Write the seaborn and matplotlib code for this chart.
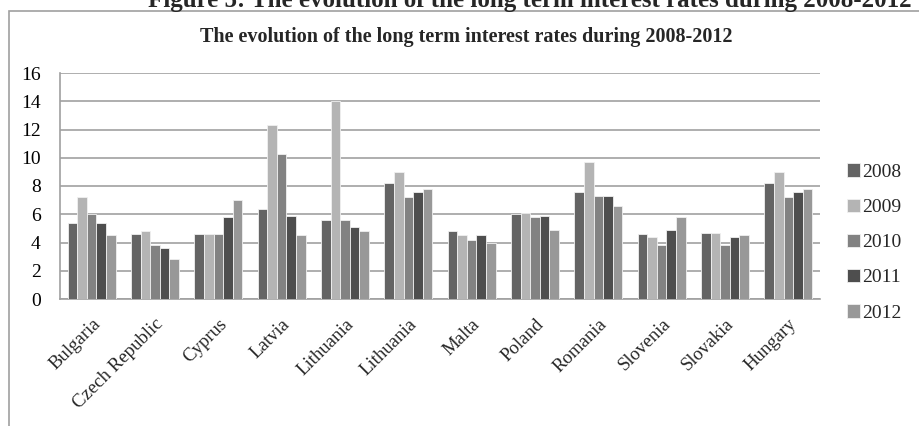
import matplotlib
matplotlib.use("Agg")
import matplotlib.pyplot as plt
import seaborn as sns
import pandas as pd
from matplotlib.patches import Rectangle

countries = ["Bulgaria", "Czech Republic", "Cyprus", "Latvia", "Lithuania",
             "Lithuania", "Malta", "Poland", "Romania", "Slovenia",
             "Slovakia", "Hungary"]
years = ["2008", "2009", "2010", "2011", "2012"]

rate_2008 = [5.4, 4.6, 4.6, 6.4, 5.6, 8.2, 4.8, 6.0, 7.6, 4.6, 4.7, 8.2]
rate_2009 = [7.2, 4.8, 4.6, 12.3, 14.0, 9.0, 4.5, 6.1, 9.7, 4.4, 4.7, 9.0]
rate_2010 = [6.0, 3.8, 4.6, 10.3, 5.6, 7.2, 4.2, 5.8, 7.3, 3.8, 3.8, 7.2]
rate_2011 = [5.4, 3.6, 5.8, 5.9, 5.1, 7.6, 4.5, 5.9, 7.3, 4.9, 4.4, 7.6]
rate_2012 = [4.5, 2.8, 7.0, 4.5, 4.8, 7.8, 4.0, 4.9, 6.6, 5.8, 4.5, 7.8]

palette = ["#646464", "#b4b4b4", "#828282", "#4e4e4e", "#989898"]

series = [rate_2008, rate_2009, rate_2010, rate_2011, rate_2012]
rows = []
for year, vals in zip(years, series):
    for slot, v in enumerate(vals):
        rows.append({"slot": slot, "year": year, "rate": v})
df = pd.DataFrame(rows)

sns.set_theme(style="white")
plt.rcParams["font.family"] = ["Liberation Serif", "DejaVu Serif"]

fig = plt.figure(figsize=(9.19, 4.26), dpi=100)
ax = fig.add_axes([60 / 919, 1 - 299 / 426, 760 / 919, 226 / 426])

sns.barplot(data=df, x="slot", y="rate", hue="year", palette=palette,
            width=0.76, edgecolor="#f0f0f0", linewidth=0.6,
            errorbar=None, ax=ax, zorder=3)

ax.set_ylim(0, 16)
ax.set_yticks(range(0, 17, 2))
ax.set_xlim(-0.5, len(countries) - 0.5)
ax.yaxis.grid(True, color="#a8a8a8", linewidth=1.3, zorder=0)
ax.set_axisbelow(True)
ax.set_xlabel("")
ax.set_ylabel("")
for side in ["top", "right"]:
    ax.spines[side].set_visible(False)
for side in ["left", "bottom"]:
    ax.spines[side].set_color("#a0a0a0")
    ax.spines[side].set_linewidth(1.2)

ax.tick_params(axis="y", labelsize=14, pad=14, length=0, colors="black")
ax.set_xticks(range(len(countries)))
ax.set_xticklabels(countries, rotation=45, ha="right", rotation_mode="anchor",
                   fontsize=13.5)
ax.tick_params(axis="x", length=0, pad=12)
for lbl in ax.get_xticklabels():
    lbl.set_x(lbl.get_position()[0] - 0.08)

leg = ax.legend(loc="center left", bbox_to_anchor=(1.025, 0.25), frameon=False,
                fontsize=14, handlelength=0.7, handleheight=0.7,
                handletextpad=0.1, labelspacing=0.9, borderaxespad=0)

fig.text(466 / 919, 1 - 37 / 426,
         "The evolution of the long term interest rates during 2008-2012",
         ha="center", va="center", fontsize=14.5, fontweight="bold")

fig.text(530 / 919, 1.0,
         "Figure 5: The evolution of the long term interest rates during 2008-2012",
         ha="center", va="center", fontsize=18, fontweight="bold")

fig.patches.append(Rectangle((8.5 / 919, -0.1), 2.0, (426 - 11) / 426 + 0.1,
                             transform=fig.transFigure, fill=False,
                             edgecolor="#a0a0a0", linewidth=1.2))

fig.savefig("out.png", dpi=100)
